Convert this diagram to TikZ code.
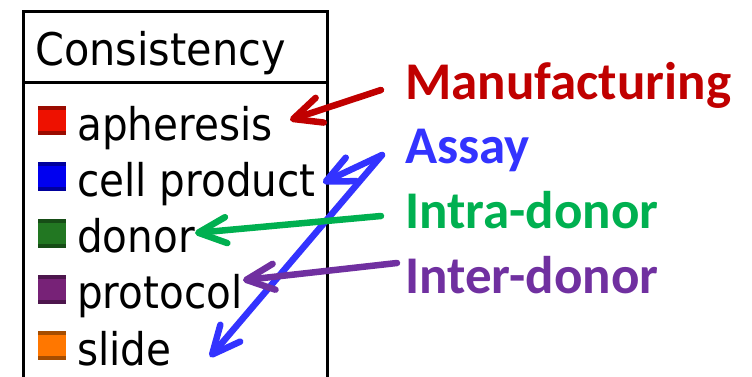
\documentclass[tikz,border=0pt]{standalone}
\usepackage{fontspec}
\usetikzlibrary{arrows.meta}
% legend lettering: a narrow, plain sans
\newfontfamily\headfont[FakeStretch=0.92]{DejaVu Sans}
\newfontfamily\itemfont[FakeStretch=0.9]{DejaVu Sans}
% callout lettering
\newfontfamily\calloutfont{Carlito}
\definecolor{manufRed}{HTML}{C00000}
\definecolor{assayBlue}{HTML}{3333FF}
\definecolor{intraGreen}{HTML}{00B050}
\definecolor{interPurple}{HTML}{7030A0}
\definecolor{swRed}{HTML}{EE1100}
\definecolor{swBlue}{HTML}{0000F0}
\definecolor{swGreen}{HTML}{227722}
\definecolor{swPurple}{HTML}{772277}
\definecolor{swOrange}{HTML}{FF7700}
\begin{document}
\begin{tikzpicture}[x=1pt,y=-1pt,
  frame/.style={line width=3pt},
  swatch/.style={minimum width=28pt, minimum height=29pt, inner sep=0pt,
    path picture={
      \fill[black,opacity=0.35] (path picture bounding box.north west)
        rectangle ([yshift=-4pt]path picture bounding box.north east);
      \fill[black,opacity=0.35] (path picture bounding box.south west)
        rectangle ([yshift=4pt]path picture bounding box.south east);}},
  headtext/.style={anchor=base west, inner sep=0pt, font=\headfont\fontsize{45}{50}\selectfont},
  item/.style={anchor=base west, inner sep=0pt, font=\itemfont\fontsize{45}{50}\selectfont},
  callout/.style={anchor=base west, inner sep=0pt, font=\calloutfont\bfseries\fontsize{53}{60}\selectfont},
  pointer/.style={line width=6.5pt, line cap=round,
    -{Straight Barb[length=28pt,width=26pt,round]}}
]
\useasboundingbox (0,0) rectangle (752,377);

% legend frame, open at the bottom
\draw[frame] (23.5,377) -- (23.5,11.5) -- (327,11.5) -- (327,377);
\draw[frame] (23.5,82.5) -- (327,82.5);

\node[headtext] (head) at (35,66) {Consistency};

% legend entries
\node[swatch, fill=swRed]    (swA) at (52,120.5)  {};
\node[swatch, fill=swBlue]   (swB) at (52,176.75) {};
\node[swatch, fill=swGreen]  (swC) at (52,233)    {};
\node[swatch, fill=swPurple] (swD) at (52,289.25) {};
\node[swatch, fill=swOrange] (swE) at (52,345.5)  {};

\node[item] (txtA) at (77,140) {apheresis};
\node[item] (txtB) at (77,196.5) {cell product};
\node[item] (txtC) at (77,252.5) {donor};
\node[item] (txtD) at (77,308.5) {protocol};
\node[item] (txtE) at (77,365) {slide};

% callouts
\node[callout, text=manufRed]    (manuf) at (405,100) {Manufacturing};
\node[callout, text=assayBlue]   (assay) at (405,163) {Assay};
\node[callout, text=intraGreen]  (intra) at (405,228) {Intra-donor};
\node[callout, text=interPurple] (inter) at (405,293) {Inter-donor};

% pointer ends
\coordinate (manufTail) at ([shift={(-24,-10)}]manuf.base west);
\coordinate (assayTail) at ([shift={(-23,-8)}]assay.base west);
\coordinate (intraTail) at ([shift={(-24,-12)}]intra.base west);
\coordinate (interTail) at ([shift={(-8,-30)}]inter.base west);

\coordinate (tipA) at ([shift={(238,-0.5)}]swA.center);
\coordinate (tipB) at ([shift={(271,6)}]swB.center);
\coordinate (tipC) at ([shift={(143,0)}]swC.center);
\coordinate (tipD) at ([shift={(191,-9)}]swD.center);
\coordinate (tipE) at ([shift={(158,11.5)}]swE.center);

% pointers
\draw[pointer, assayBlue]   (assayTail) -- (tipE);
\draw[pointer, assayBlue]   (assayTail) -- (tipB);
\draw[pointer, intraGreen]  (intraTail) -- (tipC);
\draw[pointer, interPurple] (interTail) -- (tipD);
\draw[pointer, manufRed]    (manufTail) -- (tipA);
\end{tikzpicture}
\end{document}
